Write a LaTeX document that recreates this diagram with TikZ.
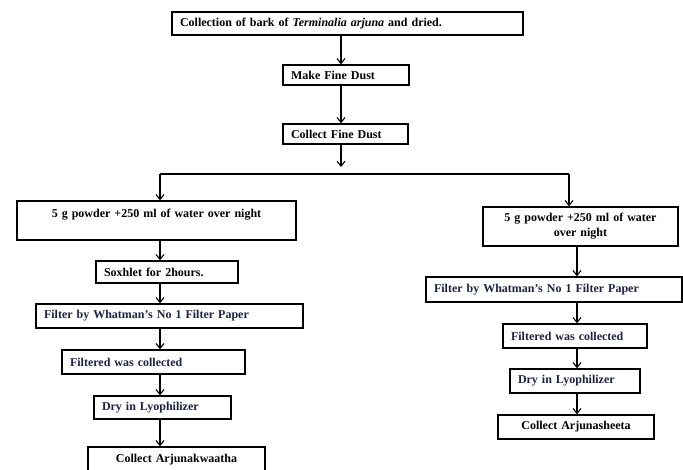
\documentclass[tikz,border=0pt]{standalone}
\usepackage{fontspec}
\setmainfont{Liberation Serif}
\usetikzlibrary{arrows.meta}

\definecolor{inkblue}{RGB}{27,35,64}

\begin{document}
\begin{tikzpicture}[x=1pt, y=-1pt,
        box/.style={draw, line width=1.3pt, inner xsep=8pt, inner ysep=0pt, align=left,
            font=\bfseries\fontsize{12}{15}\selectfont},
        arr/.style={line width=1.1pt, ->, >={Straight Barb[length=5pt, width=8pt]}},
        bar/.style={line width=2.6pt}]
            \clip (0,0) rectangle (683,470);

            % common steps
            \node[box, text width=335, minimum height=23] (bark) at (347.5,23.5)
                {Collection of bark of \textit{Terminalia arjuna} and dried.};
            \node[box, text width=110, minimum height=20] (make) at (346,75) {Make Fine Dust};
            \node[box, text width=109, minimum height=20] (fine) at (345.5,134) {Collect Fine Dust};

            % left branch
            \node[box, text width=263, minimum height=39, align=center] (soakL) at (156.5,220.5)
                {5 g powder +250 ml of water over night\\\mbox{}};
            \node[box, text width=126, minimum height=22] (soxhlet) at (167,272) {Soxhlet for 2hours.};
            \node[box, text width=251, minimum height=24, text=inkblue] (filterL) at (169.5,316)
                {Filter by Whatman's No 1 Filter Paper};
            \node[box, text width=167, minimum height=24, text=inkblue] (filteredL) at (153.5,362)
                {Filtered was collected};
            \node[box, text width=121, minimum height=23, text=inkblue] (dryL) at (162.5,407.5)
                {Dry in Lyophilizer};
            \node[box, text width=161, minimum height=26, align=center] (kwaatha) at (176.5,460)
                {Collect Arjunakwaatha};

            % right branch
            \node[box, text width=179, minimum height=39, align=center] (soakR) at (580.5,226.5)
                {5 g powder +250 ml of water\\over night};
            \node[box, text width=240, minimum height=25, text=inkblue] (filterR) at (554,289.5)
                {Filter by Whatman's No 1 Filter Paper};
            \node[box, text width=128, minimum height=24, text=inkblue] (filteredR) at (575,336)
                {Filtered was collected};
            \node[box, text width=114, minimum height=24, text=inkblue] (dryR) at (575,381)
                {Dry in Lyophilizer};
            \node[box, text width=140, minimum height=24, align=center] (sheeta) at (576,427)
                {Collect Arjunasheeta};

            \coordinate (spine) at (341,0);
            \coordinate (drop) at (341,167);
            \coordinate (splitL) at (160,174);
            \coordinate (splitR) at (569,174);
            \coordinate (colL) at (160,0);
            \coordinate (colR) at (577,0);

            \draw[arr] (bark.south -| spine) -- (make.north -| spine);
            \draw[arr] (make.south -| spine) -- (fine.north -| spine);
            \draw[arr] (fine.south -| spine) -- (drop);
            \draw[bar] (splitL) -- (splitR);
            \draw[arr] (splitL) -- (soakL.north -| splitL);
            \draw[arr] (splitR) -- (soakR.north -| splitR);

            \draw[arr] (soakL.south -| colL) -- (soxhlet.north -| colL);
            \draw[arr] (soxhlet.south -| colL) -- (filterL.north -| colL);
            \draw[arr] (filterL.south -| colL) -- (filteredL.north -| colL);
            \draw[arr] (filteredL.south -| colL) -- (dryL.north -| colL);
            \draw[arr] (dryL.south -| colL) -- (kwaatha.north -| colL);

            \draw[arr] (soakR.south -| colR) -- (filterR.north -| colR);
            \draw[arr] (filterR.south -| colR) -- (filteredR.north -| colR);
            \draw[arr] (filteredR.south -| colR) -- (dryR.north -| colR);
            \draw[arr] (dryR.south -| colR) -- (sheeta.north -| colR);
        \end{tikzpicture}
\end{document}
